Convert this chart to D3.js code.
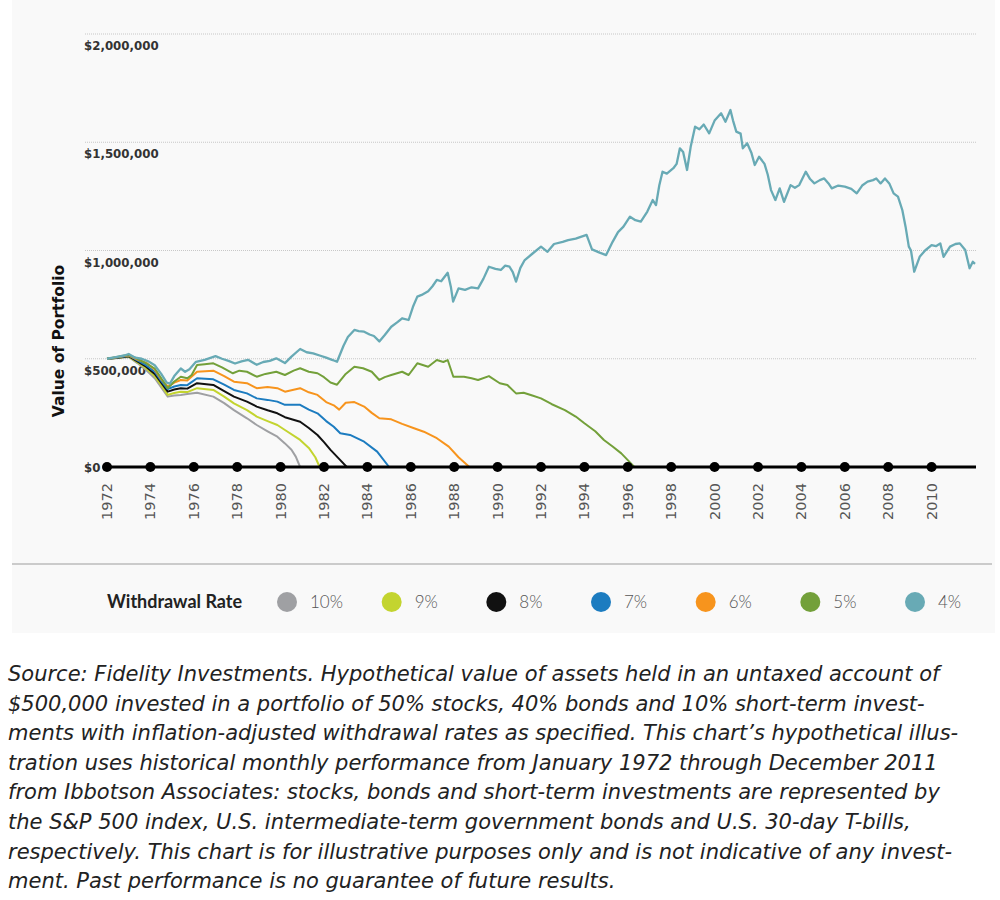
<!DOCTYPE html>
<html>
<head>
<meta charset="utf-8">
<script src="https://cdn.jsdelivr.net/npm/d3@7"></script>
<style>
  body { margin: 0; background: #fff; }
  svg { display: block; }
</style>
</head>
<body>
<div id="chart"></div>
<script>
// portfolio values in thousands of dollars, [year, value]
const rate10 = [[1972.0,500],[1972.4,502],[1973.0,508],[1973.4,480],[1973.8,448],[1974.2,410],[1974.5,368],[1974.8,325],[1975.1,330],[1975.4,333],[1975.7,337],[1976.15,343],[1976.9,325],[1977.4,295],[1977.85,263],[1978.45,225],[1978.9,194],[1979.4,165],[1979.85,140],[1980.2,109],[1980.5,80],[1980.7,48],[1980.9,0]]
const rate9 = [[1972.0,500],[1972.4,503],[1973.0,510],[1973.4,484],[1973.8,456],[1974.2,420],[1974.5,378],[1974.8,333],[1975.1,342],[1975.4,348],[1975.7,346],[1976.15,364],[1976.9,356],[1977.4,325],[1977.85,294],[1978.45,263],[1978.9,233],[1979.4,212],[1979.85,194],[1980.2,171],[1980.9,125],[1981.3,88],[1981.6,45],[1981.8,0]]
const rate8 = [[1972.0,500],[1972.4,504],[1973.0,512],[1973.4,488],[1973.8,463],[1974.2,430],[1974.5,390],[1974.8,348],[1975.1,358],[1975.4,364],[1975.7,362],[1976.15,387],[1976.9,379],[1977.4,350],[1977.85,325],[1978.45,302],[1978.9,279],[1979.4,262],[1979.85,248],[1980.2,230],[1980.9,209],[1981.3,180],[1981.7,148],[1982.0,115],[1982.3,79],[1982.75,32],[1983.05,0]]
const rate7 = [[1972.0,500],[1972.4,505],[1973.0,514],[1973.4,492],[1973.8,470],[1974.2,440],[1974.5,398],[1974.8,360],[1975.1,372],[1975.4,379],[1975.7,378],[1976.15,410],[1976.9,405],[1977.4,380],[1977.85,356],[1978.45,340],[1978.9,317],[1979.4,310],[1979.85,302],[1980.2,287],[1980.9,287],[1981.3,265],[1981.7,248],[1982.1,212],[1982.45,186],[1982.75,156],[1983.2,148],[1983.85,117],[1984.45,71],[1985.0,0]]
const rate6 = [[1972.0,500],[1972.4,506],[1973.0,516],[1973.4,496],[1973.8,482],[1974.2,450],[1974.5,405],[1974.8,372],[1975.1,390],[1975.4,402],[1975.7,400],[1976.15,440],[1976.9,445],[1977.4,420],[1977.85,394],[1978.45,387],[1978.9,364],[1979.4,370],[1979.85,364],[1980.2,348],[1980.9,364],[1981.3,345],[1981.7,333],[1982.1,300],[1982.45,285],[1982.7,265],[1983.0,297],[1983.4,300],[1983.85,279],[1984.2,250],[1984.55,225],[1985.1,220],[1985.6,199],[1986.15,179],[1986.6,163],[1987.2,133],[1987.75,94],[1988.2,45],[1988.7,0]]
const rate5 = [[1972.0,500],[1972.4,507],[1973.0,518],[1973.4,500],[1973.8,479],[1974.2,455],[1974.5,410],[1974.8,364],[1975.1,395],[1975.4,417],[1975.7,410],[1975.9,425],[1976.15,471],[1976.5,475],[1976.9,479],[1977.3,460],[1977.8,433],[1978.1,445],[1978.45,440],[1978.9,417],[1979.3,430],[1979.8,440],[1980.2,425],[1980.6,445],[1980.9,456],[1981.3,440],[1981.7,433],[1982.0,415],[1982.3,390],[1982.6,380],[1983.0,430],[1983.4,463],[1983.8,456],[1984.2,440],[1984.55,402],[1984.8,415],[1985.1,425],[1985.6,440],[1985.9,425],[1986.3,479],[1986.8,463],[1987.2,494],[1987.5,485],[1987.7,494],[1987.96,417],[1988.45,417],[1988.8,410],[1989.1,402],[1989.6,420],[1990.1,387],[1990.45,379],[1990.85,340],[1991.2,343],[1991.6,330],[1992.0,317],[1992.5,290],[1993.1,263],[1993.6,233],[1994.0,202],[1994.5,165],[1994.9,125],[1995.3,95],[1995.7,63],[1996.0,32],[1996.3,0]]
const rate4 = [[1972.0,500],[1972.4,508],[1972.8,515],[1973.0,522],[1973.3,505],[1973.6,500],[1973.9,488],[1974.2,470],[1974.5,430],[1974.75,390],[1974.9,385],[1975.1,420],[1975.4,455],[1975.6,440],[1975.8,452],[1976.1,486],[1976.5,495],[1977.0,512],[1977.3,500],[1977.6,490],[1977.9,478],[1978.2,488],[1978.5,495],[1978.9,472],[1979.2,485],[1979.5,490],[1979.8,502],[1980.2,480],[1980.5,510],[1980.9,545],[1981.2,530],[1981.5,525],[1981.8,515],[1982.1,505],[1982.4,494],[1982.6,486],[1982.9,560],[1983.1,600],[1983.4,633],[1983.6,628],[1983.85,625],[1984.1,612],[1984.3,605],[1984.55,580],[1984.8,610],[1985.1,648],[1985.4,670],[1985.6,687],[1985.9,679],[1986.1,740],[1986.3,787],[1986.5,795],[1986.8,812],[1987.0,835],[1987.2,864],[1987.4,858],[1987.7,897],[1987.85,830],[1987.95,764],[1988.2,825],[1988.5,818],[1988.8,830],[1989.1,825],[1989.35,870],[1989.6,925],[1989.9,915],[1990.15,910],[1990.35,930],[1990.55,925],[1990.7,900],[1990.85,856],[1991.05,920],[1991.25,956],[1991.6,985],[1992.0,1018],[1992.3,994],[1992.6,1030],[1993.0,1040],[1993.25,1048],[1993.6,1055],[1994.1,1072],[1994.35,1005],[1994.7,990],[1995.0,979],[1995.3,1040],[1995.55,1085],[1995.8,1110],[1996.1,1156],[1996.35,1140],[1996.6,1133],[1996.9,1180],[1997.15,1233],[1997.3,1210],[1997.45,1300],[1997.6,1364],[1997.8,1355],[1998.1,1380],[1998.25,1400],[1998.4,1472],[1998.55,1455],[1998.73,1372],[1998.9,1480],[1999.1,1572],[1999.3,1560],[1999.5,1582],[1999.75,1541],[2000.0,1600],[2000.3,1634],[2000.5,1595],[2000.73,1649],[2000.85,1600],[2001.0,1549],[2001.2,1540],[2001.3,1472],[2001.5,1495],[2001.7,1450],[2001.85,1395],[2002.05,1433],[2002.3,1400],[2002.45,1350],[2002.6,1279],[2002.8,1233],[2003.0,1287],[2003.2,1225],[2003.5,1302],[2003.7,1290],[2003.9,1302],[2004.2,1364],[2004.4,1330],[2004.6,1310],[2004.85,1325],[2005.05,1333],[2005.25,1310],[2005.4,1287],[2005.7,1300],[2006.0,1295],[2006.3,1285],[2006.55,1264],[2006.8,1300],[2007.05,1318],[2007.3,1325],[2007.45,1333],[2007.65,1310],[2007.85,1333],[2008.05,1310],[2008.25,1264],[2008.45,1249],[2008.65,1187],[2008.8,1110],[2008.95,1018],[2009.05,1000],[2009.2,902],[2009.45,971],[2009.7,1000],[2010.0,1025],[2010.2,1020],[2010.4,1033],[2010.55,971],[2010.85,1018],[2011.1,1030],[2011.3,1033],[2011.55,1002],[2011.75,918],[2011.9,948],[2012.0,938]]

const rateLabels = ['10%', '9%', '8%', '7%', '6%', '5%', '4%']
const rateColors = ['#9fa0a3', '#c3d42f', '#111111', '#1c7cc0', '#f7941d', '#73a03a', '#68aab5']
const yTicks = [0, 500000, 1000000, 1500000, 2000000]
const yearTicks = d3.range(1972, 2011, 2)
const caption = [
  'Source: Fidelity Investments. Hypothetical value of assets held in an untaxed account of',
  '$500,000 invested in a portfolio of 50% stocks, 40% bonds and 10% short-term invest-',
  'ments with inflation-adjusted withdrawal rates as specified. This chart\u2019s hypothetical illus-',
  'tration uses historical monthly performance from January 1972 through December 2011',
  'from Ibbotson Associates: stocks, bonds and short-term investments are represented by',
  'the S&P 500 index, U.S. intermediate-term government bonds and U.S. 30-day T-bills,',
  'respectively. This chart is for illustrative purposes only and is not indicative of any invest-',
  'ment. Past performance is no guarantee of future results.'
]

const series = [rate10, rate9, rate8, rate7, rate6, rate5, rate4]

let svg = d3.select('#chart')
  .append('svg')
    .attr('width', 1000)
    .attr('height', 900)

// grey panel behind the chart
svg.append('rect')
  .attr('x', 12)
  .attr('y', 0)
  .attr('width', 983)
  .attr('height', 633)
  .attr('fill', '#f9f9f9')

let xScale = d3.scaleLinear()
  .domain([1972, 2012])
  .range([107, 975])

let yScale = d3.scaleLinear()
  .domain([0, 2000000])
  .range([467, 34])

// dotted grid lines
svg.append('g')
  .selectAll('line')
  .data(yTicks.filter(d => d > 0))
  .enter().append('line')
    .attr('x1', 85)
    .attr('x2', 976)
    .attr('y1', d => yScale(d))
    .attr('y2', d => yScale(d))
    .attr('stroke', '#c8c8c8')
    .attr('stroke-width', 1.2)
    .attr('stroke-dasharray', '1,1')

// y tick labels, hanging under the grid lines
svg.append('g')
  .selectAll('text')
  .data(yTicks)
  .enter().append('text')
    .attr('x', 84)
    .attr('y', d => d === 0 ? yScale(d) + 4.5 : yScale(d) + 16)
    .attr('font-family', 'DejaVu Sans')
    .attr('font-weight', 'bold')
    .attr('font-size', '11.8px')
    .attr('fill', '#333')
    .text(d => d3.format('$,')(d))

// y axis title
svg.append('text')
  .attr('transform', 'translate(64,341) rotate(-90)')
  .attr('text-anchor', 'middle')
  .attr('font-family', 'DejaVu Sans')
  .attr('font-weight', 'bold')
  .attr('font-size', '15.5px')
  .attr('fill', '#111')
  .text('Value of Portfolio')

// the lines
let line = d3.line()
  .x(d => xScale(d[0]))
  .y(d => yScale(d[1] * 1000))

svg.append('g')
  .selectAll('path')
  .data(series)
  .enter().append('path')
    .attr('d', line)
    .attr('fill', 'none')
    .attr('stroke', (d, i) => rateColors[i])
    .attr('stroke-width', (d, i) => i === 6 ? 2.3 : 2)
    .attr('stroke-linejoin', 'round')

// zero axis with year dots
svg.append('line')
  .attr('x1', 105)
  .attr('x2', 976)
  .attr('y1', yScale(0))
  .attr('y2', yScale(0))
  .attr('stroke', '#000')
  .attr('stroke-width', 3)

svg.append('g')
  .selectAll('circle')
  .data(yearTicks)
  .enter().append('circle')
    .attr('cx', d => xScale(d))
    .attr('cy', yScale(0))
    .attr('r', 5)
    .attr('fill', '#000')

svg.append('g')
  .selectAll('text')
  .data(yearTicks)
  .enter().append('text')
    .attr('transform', d => 'translate(' + (xScale(d) + 5) + ',' + (yScale(0) + 16) + ') rotate(-90)')
    .attr('text-anchor', 'end')
    .attr('font-family', 'DejaVu Sans')
    .attr('font-size', '14.5px')
    .attr('fill', '#555')
    .text(d => d)

// separator above legend
svg.append('line')
  .attr('x1', 12)
  .attr('x2', 992)
  .attr('y1', 564)
  .attr('y2', 564)
  .attr('stroke', '#bbb')
  .attr('stroke-width', 1.5)

// legend
svg.append('text')
  .attr('x', 107)
  .attr('y', 608)
  .attr('font-family', 'Lato')
  .attr('font-weight', 'bold')
  .attr('font-size', '18px')
  .attr('fill', '#222')
  .text('Withdrawal Rate')

let legendX = d3.scalePoint()
  .domain(rateLabels)
  .range([287, 915])

let legend = svg.append('g')
  .selectAll('g')
  .data(rateLabels)
  .enter().append('g')
    .attr('transform', d => 'translate(' + legendX(d) + ',602)')

legend.append('circle')
  .attr('r', 10)
  .attr('fill', (d, i) => rateColors[i])

legend.append('text')
  .attr('x', 23)
  .attr('y', 6)
  .attr('font-family', 'Lato')
  .attr('font-weight', 300)
  .attr('font-size', '17px')
  .attr('fill', '#555')
  .text(d => d)

// caption under the panel
let cap = svg.append('g')
  .selectAll('text')
  .data(caption)
  .enter().append('text')
    .attr('x', 8)
    .attr('y', (d, i) => 681 + i * 29.6)
    .attr('font-family', 'DejaVu Sans')
    .attr('font-style', 'italic')
    .attr('font-size', '18px')
    .attr('fill', '#222')
    .text(d => d)

// fit the first caption line to the measured width
let firstLen = cap.nodes()[0].getComputedTextLength()
cap.attr('font-size', (18 * 932 / firstLen) + 'px')
</script>
</body>
</html>
